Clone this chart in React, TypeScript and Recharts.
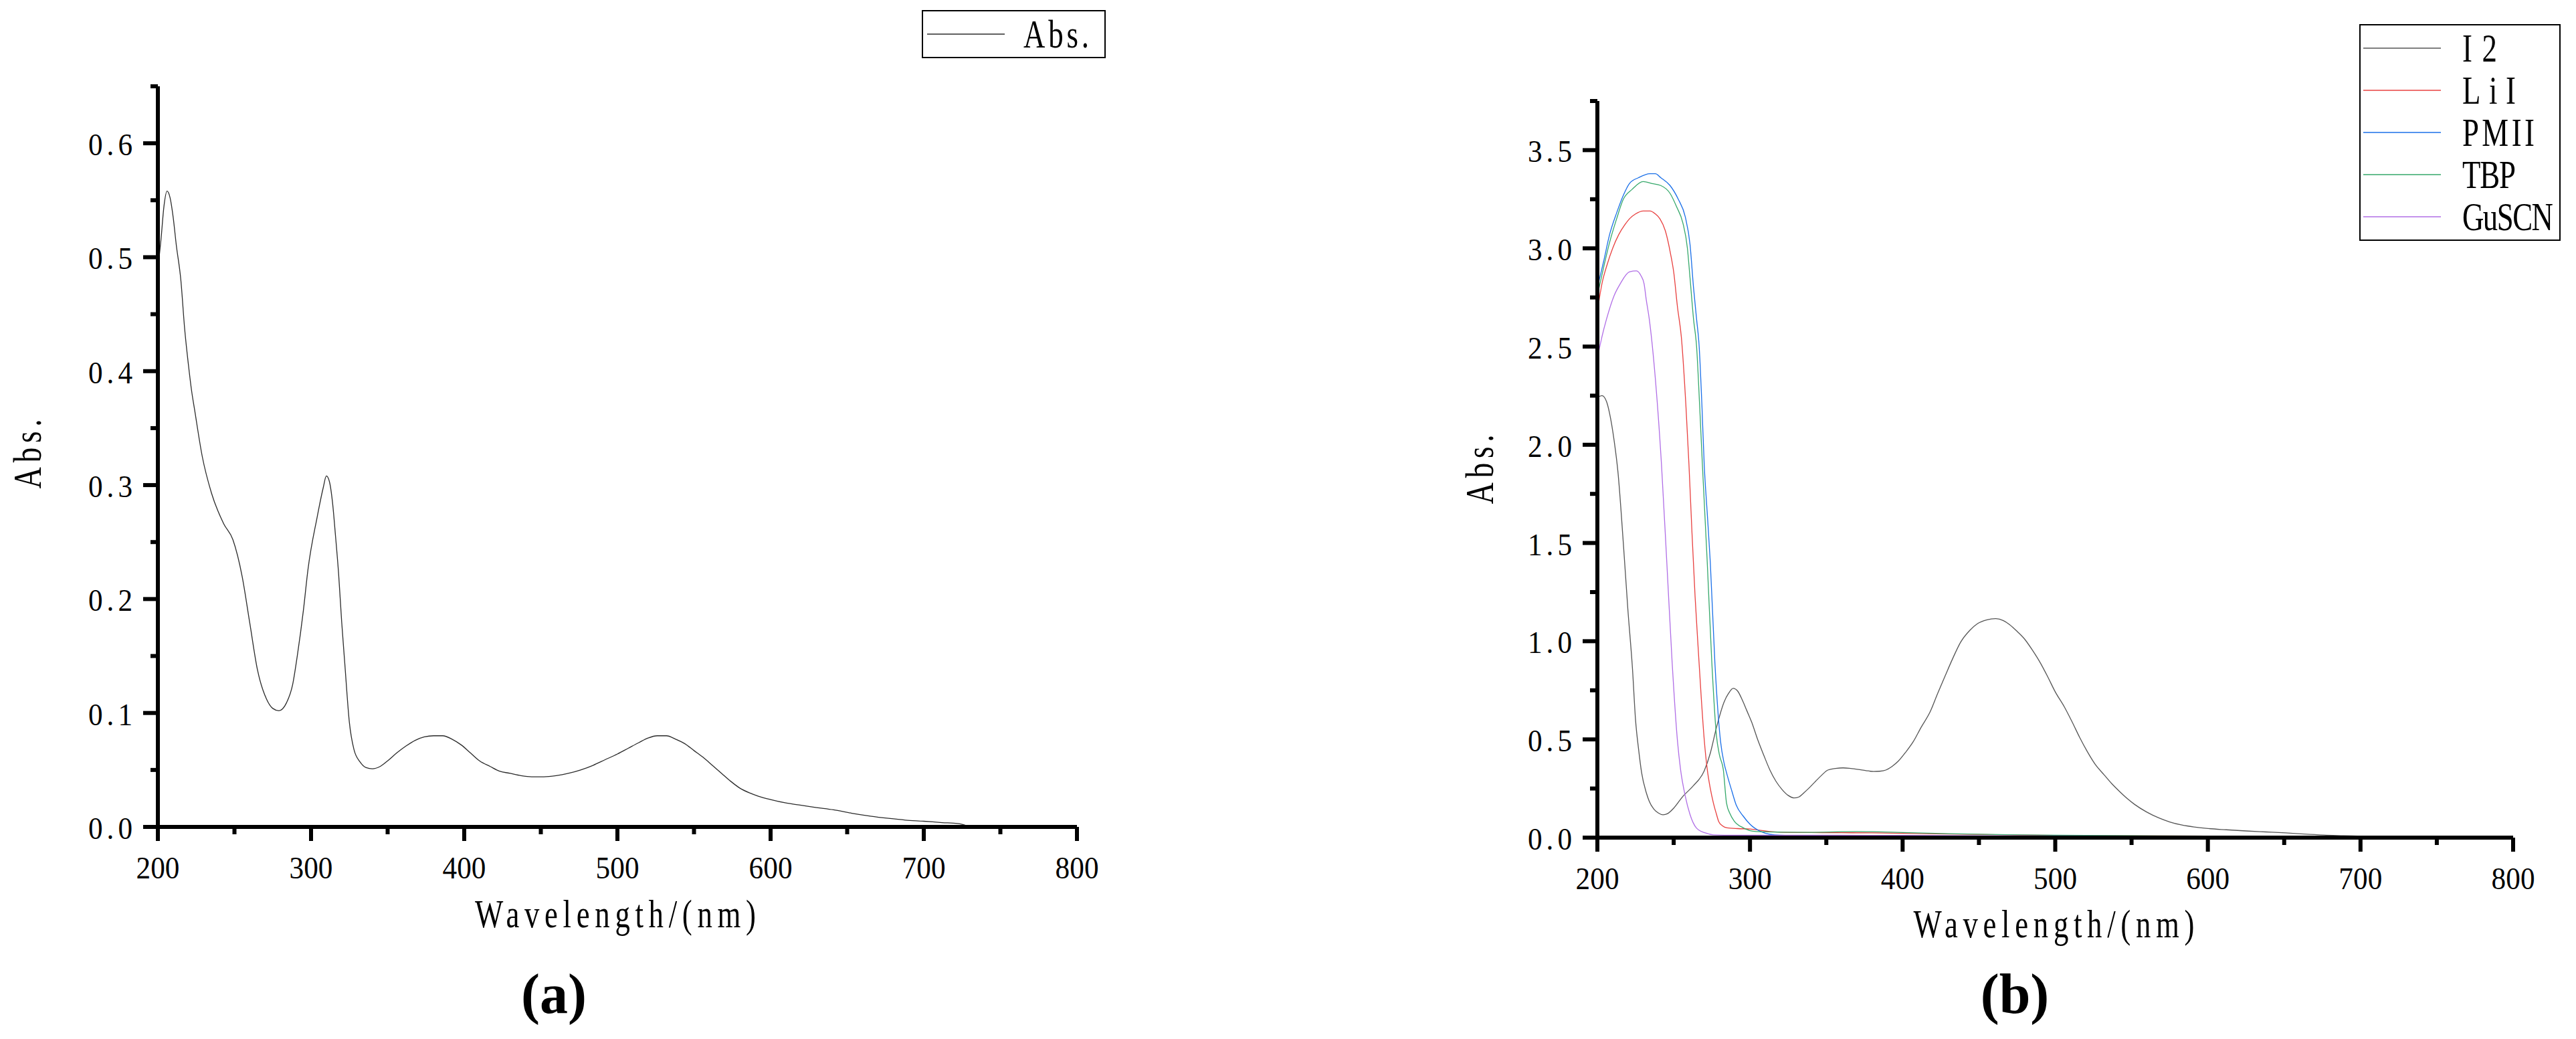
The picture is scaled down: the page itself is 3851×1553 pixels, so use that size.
import React from 'react';
import { LineChart, Line, XAxis, YAxis, Legend, Label } from 'recharts';

const FONT = '"Liberation Serif", "Times New Roman", serif';
const AXIS_STROKE = 6;

// ---------- ticks ----------
const xMajorTicks = [200, 300, 400, 500, 600, 700, 800];
const xMinorTicks = [250, 350, 450, 550, 650, 750];
const yMajorTicksA = [0, 0.1, 0.2, 0.3, 0.4, 0.5, 0.6];
const yMinorTicksA = [0.05, 0.15, 0.25, 0.35, 0.45, 0.55, 0.65];
const yMajorTicksB = [0, 0.5, 1, 1.5, 2, 2.5, 3, 3.5];
const yMinorTicksB = [0.25, 0.75, 1.25, 1.75, 2.25, 2.75, 3.25, 3.75];

const xTitle = 'Wavelength/(nm)';
const yTitle = 'Abs.';
const panelLabels = ['(a)', '(b)'];

// ---------- chart (a): single spectrum [wavelength nm, absorbance] ----------
const spectrumA: [number, number][] = [
  [200, 0.49], [202, 0.515], [204, 0.545], [206, 0.558], [208, 0.552], [210, 0.535],
  [212, 0.511], [215, 0.48], [217.5, 0.437], [220, 0.405], [222, 0.383], [224, 0.366],
  [229, 0.325], [235, 0.293], [243, 0.266], [249, 0.252], [255, 0.22], [260, 0.179],
  [265, 0.138], [271, 0.112], [275, 0.104], [279, 0.102], [284, 0.109], [288, 0.125],
  [291, 0.15], [295, 0.19], [298, 0.226], [304, 0.272], [308, 0.298], [310, 0.308],
  [312, 0.303], [314, 0.285], [316, 0.255], [318, 0.222], [320, 0.18], [322, 0.144],
  [325, 0.092], [328, 0.068], [332, 0.057], [336, 0.052], [340, 0.051], [345, 0.053],
  [350, 0.058], [356, 0.065], [362, 0.071], [368, 0.076], [374, 0.079], [380, 0.08],
  [386, 0.08], [392, 0.077], [398, 0.072], [404, 0.065], [410, 0.058], [417, 0.053],
  [423, 0.049], [430, 0.047], [437, 0.045], [444, 0.044], [452, 0.044], [460, 0.045],
  [468, 0.047], [476, 0.05], [484, 0.054], [492, 0.059], [500, 0.064], [507, 0.069],
  [514, 0.074], [520, 0.078], [526, 0.08], [532, 0.08], [538, 0.077], [544, 0.073],
  [550, 0.067], [556, 0.061], [562, 0.054], [568, 0.047], [574, 0.04], [580, 0.034],
  [586, 0.03], [592, 0.027], [600, 0.024], [610, 0.021], [620, 0.019], [630, 0.017],
  [641, 0.015], [653, 0.012], [665, 0.0095], [677, 0.0075], [688, 0.006], [700, 0.005],
  [712, 0.0038], [722, 0.003], [727, 0.0015],
];

// ---------- chart (b): five spectra ----------
const seriesI2: [number, number][] = [
  [200, 2.24], [203, 2.25], [206, 2.22], [208, 2.16], [211, 2.02], [213.5, 1.86], [217, 1.5],
  [220, 1.16], [223, 0.86], [225, 0.6], [227, 0.45], [229, 0.33], [232, 0.23], [234, 0.185],
  [237, 0.145], [240, 0.125], [243, 0.116], [246, 0.122], [250, 0.15], [256, 0.21], [263, 0.265],
  [270, 0.34], [274, 0.43], [278, 0.56], [283, 0.69], [286, 0.735], [289, 0.76], [292, 0.745],
  [295, 0.7], [298, 0.645], [301, 0.59], [305, 0.5], [309, 0.42], [313, 0.345], [317, 0.287],
  [321, 0.245], [325, 0.215], [329, 0.202], [332, 0.207], [335, 0.226], [339, 0.255], [343, 0.287],
  [347, 0.318], [351, 0.344], [356, 0.352], [361, 0.355], [366, 0.352], [371, 0.347], [376, 0.341],
  [381, 0.337], [385, 0.338], [389, 0.344], [393, 0.362], [397, 0.388], [402, 0.435], [407, 0.489],
  [412, 0.56], [418, 0.64], [423, 0.735], [428, 0.826], [433, 0.915], [438, 0.995], [444, 1.055],
  [449, 1.089], [455, 1.108], [461, 1.115], [466, 1.105], [470, 1.085], [475, 1.05], [480, 1.01],
  [485, 0.955], [490, 0.893], [495, 0.82], [500, 0.742], [506, 0.665], [511, 0.59], [516, 0.51],
  [521, 0.438], [526, 0.375], [532, 0.32], [537, 0.275], [542, 0.236], [547, 0.2], [552, 0.169],
  [560, 0.13], [568, 0.1], [575, 0.08], [583, 0.064], [591, 0.054], [599, 0.047], [612, 0.04],
  [625, 0.034], [638, 0.029], [651, 0.024], [663, 0.018], [676, 0.013], [689, 0.01], [702, 0.007],
  [720, 0.005], [750, 0.004], [780, 0.003], [800, 0.003],
];

const seriesLiI: [number, number][] = [
  [200, 2.68], [203, 2.82], [206.5, 2.92], [210, 3.0], [214, 3.07], [218, 3.12], [221, 3.15],
  [225, 3.175], [230, 3.19], [234.5, 3.19], [238, 3.175], [241, 3.15], [244.5, 3.09], [248, 2.97],
  [250, 2.88], [252.5, 2.7], [255, 2.55], [258, 2.2], [260, 1.9], [262, 1.55], [264, 1.23],
  [266, 0.97], [268, 0.72], [270, 0.5], [272, 0.347], [274, 0.25], [276, 0.177], [278, 0.12],
  [279.5, 0.082], [282, 0.06], [285, 0.05], [292, 0.046], [300, 0.044], [307, 0.037], [313, 0.031],
  [320, 0.028], [340, 0.026], [360, 0.025], [380, 0.024], [400, 0.022], [430, 0.018], [470, 0.014],
  [520, 0.01], [600, 0.008], [700, 0.006], [800, 0.005],
];

const seriesPMII: [number, number][] = [
  [200, 2.8], [204, 2.93], [208, 3.07], [212.6, 3.18], [217, 3.27], [221, 3.33], [227, 3.36],
  [234.5, 3.38], [238, 3.38], [241.5, 3.36], [247.6, 3.32], [253, 3.25], [257.6, 3.16],
  [260.7, 3.02], [263, 2.8], [265, 2.64], [266.7, 2.5], [268.5, 2.2], [270, 1.9], [272, 1.65],
  [274, 1.4], [277, 0.89], [280.7, 0.49], [283, 0.38], [285, 0.32], [288, 0.24], [291, 0.165],
  [295.6, 0.109], [300, 0.068], [307, 0.031], [313, 0.017], [320, 0.012], [340, 0.01], [360, 0.009],
  [400, 0.008], [450, 0.007], [500, 0.006], [600, 0.005], [700, 0.004], [800, 0.004],
];

const seriesTBP: [number, number][] = [
  [200, 2.76], [204, 2.9], [208, 3.03], [212.6, 3.15], [217, 3.25], [222.7, 3.3], [230, 3.34],
  [235.8, 3.33], [241.5, 3.32], [247.6, 3.28], [252, 3.21], [256, 3.13], [259, 3.0], [260.7, 2.85],
  [263, 2.64], [265, 2.5], [267, 2.2], [268.8, 1.9], [272, 1.4], [275, 0.89], [278, 0.52],
  [280, 0.42], [282.5, 0.347], [284.6, 0.177], [287, 0.12], [289.6, 0.085], [295.6, 0.05],
  [304, 0.031], [320, 0.028], [340, 0.027], [360, 0.03], [370, 0.031], [380, 0.03], [400, 0.026],
  [430, 0.02], [470, 0.015], [520, 0.011], [600, 0.008], [700, 0.004], [800, 0.003],
];

const seriesGuSCN: [number, number][] = [
  [200, 2.44], [203, 2.55], [206, 2.64], [211, 2.76], [215, 2.82], [221, 2.88], [225.6, 2.885],
  [228.6, 2.86], [230.6, 2.82], [232, 2.74], [234, 2.64], [237.5, 2.38], [242, 1.9], [245.5, 1.4],
  [249, 0.89], [252.5, 0.49], [254.5, 0.347], [257.6, 0.211], [260.6, 0.12], [265, 0.048],
  [270.7, 0.024], [276, 0.014], [290, 0.012], [320, 0.012], [360, 0.012], [400, 0.011],
  [500, 0.009], [600, 0.007], [700, 0.005], [800, 0.004],
];

const seriesNamesB = ['I2', 'LiI', 'PMII', 'TBP', 'GuSCN'];
const seriesColorsB = ['#555555', '#e8403f', '#1a6fe8', '#35a86a', '#b06ee6'];
const seriesListB = [seriesI2, seriesLiI, seriesPMII, seriesTBP, seriesGuSCN];

const toRows = (pairs: [number, number][]) => pairs.map(([x, y]) => ({ x, y }));

const isIn = (list: number[], v: number) => list.some((m) => Math.abs(m - v) < 1e-6);

// Text that imitates the narrow fixed-pitch serif of the original: glyphs are
// squeezed horizontally by sx, then letter spacing fills the target width.
const MonoText = (p: {
  x: number; y: number; text: string; size: number; width: number; sx: number;
  anchor?: 'start' | 'middle' | 'end'; rotate?: boolean;
}) => {
  const { x, y, text, size, width, sx, anchor = 'start', rotate = false } = p;
  const tf = rotate ? `rotate(-90 ${x} ${y}) scale(${sx} 1)` : `scale(${sx} 1)`;
  return (
    <text x={x / sx} y={y} transform={tf} textAnchor={anchor} fontFamily={FONT} fontSize={size}
      fill="#000" textLength={width / sx} lengthAdjust="spacing">{text}</text>
  );
};

// ---------- custom ticks ----------
const XTick = (props: any) => {
  const { x, y, payload } = props;
  const v = payload.value;
  const major = isIn(xMajorTicks, v);
  return (
    <g>
      <line x1={x} y1={y} x2={x} y2={y + (major ? 21 : 11)} stroke="#000" strokeWidth={AXIS_STROKE} />
      {major ? (
        <MonoText x={x} y={y + 77} text={String(v)} size={46} width={65} sx={0.94} anchor="middle" />
      ) : null}
    </g>
  );
};

const makeYTick = (majors: number[]) => (props: any) => {
  const { x, y, payload } = props;
  const v = payload.value;
  const major = isIn(majors, v);
  return (
    <g>
      <line x1={x - (major ? 22 : 11)} y1={y} x2={x} y2={y} stroke="#000" strokeWidth={AXIS_STROKE} />
      {major ? (
        <MonoText x={x - 38} y={y + 18} text={v.toFixed(1)} size={46} width={66} sx={0.94} anchor="end" />
      ) : null}
    </g>
  );
};
const YTickA = makeYTick(yMajorTicksA);
const YTickB = makeYTick(yMajorTicksB);

// ---------- titles ----------
const makeXTitle = (dy: number, dx: number) => (props: any) => {
  const vb = props.viewBox || { x: 0, y: 0, width: 0, height: 0 };
  return (
    <MonoText x={vb.x + vb.width / 2 + dx} y={vb.y + dy} text={xTitle} size={59} width={420}
      sx={0.76} anchor="middle" />
  );
};

const makeYTitle = (fromPlotLeft: number, cyOffset: number) => (props: any) => {
  const vb = props.viewBox || { x: 0, y: 0, width: 0, height: 0 };
  const cx = vb.x + vb.width - fromPlotLeft;
  const cy = vb.y + vb.height / 2 + cyOffset;
  return <MonoText x={cx} y={cy} text={yTitle} size={59} width={104} sx={0.76} anchor="middle" rotate />;
};

// ---------- legends ----------
const LegendA = (props: any) => {
  const items = props.payload || [];
  return (
    <svg width={275} height={72} style={{ display: 'block', overflow: 'visible' }}>
      <rect x={1} y={1} width={273} height={70} fill="#fff" stroke="#000" strokeWidth={2} />
      {items.map((it: any, i: number) => (
        <g key={i}>
          <line x1={8} x2={124} y1={36} y2={36} stroke={it.color} strokeWidth={1.5} />
          <MonoText x={152} y={56} text={String(it.value)} size={59} width={98} sx={0.76} />
        </g>
      ))}
    </svg>
  );
};

const LegendB = (props: any) => {
  const items = [...(props.payload || [])].sort(
    (a: any, b: any) => seriesNamesB.indexOf(String(a.value)) - seriesNamesB.indexOf(String(b.value)),
  );
  return (
    <svg width={301} height={324} style={{ display: 'block', overflow: 'visible' }}>
      <rect x={1} y={1} width={299} height={322} fill="#fff" stroke="#000" strokeWidth={2} />
      {items.map((it: any, i: number) => {
        const ly = 36 + i * 63;
        const label = String(it.value);
        return (
          <g key={i}>
            <line x1={6} x2={122} y1={ly} y2={ly} stroke={it.color} strokeWidth={1.5} />
            <MonoText x={154} y={ly + 20} text={label} size={59} width={label.length * 28 - 4} sx={0.76} />
          </g>
        );
      })}
    </svg>
  );
};

export default function App() {
  const dataA = toRows(spectrumA);
  return (
    <div style={{ position: 'absolute', left: 0, top: 0, width: 3851, height: 1553, background: '#fff' }}>
      <div style={{ position: 'absolute', left: 0, top: 0 }}>
        <LineChart width={1700} height={1553} margin={{ top: 129, right: 90, bottom: 117, left: 36 }}>
          <XAxis type="number" dataKey="x" domain={[200, 800]} ticks={[...xMajorTicks, ...xMinorTicks]}
            interval={0} tickSize={0} tickMargin={0} tickLine={false} tick={XTick} height={200}
            axisLine={{ stroke: '#000', strokeWidth: AXIS_STROKE }} allowDataOverflow>
            <Label content={makeXTitle(150, -3)} />
          </XAxis>
          <YAxis type="number" domain={[0, 0.65]} ticks={[...yMajorTicksA, ...yMinorTicksA]}
            interval={0} tickSize={0} tickMargin={0} tickLine={false} tick={YTickA} width={200}
            axisLine={{ stroke: '#000', strokeWidth: AXIS_STROKE }} allowDataOverflow>
            <Label content={makeYTitle(175, -4)} />
          </YAxis>
          <Legend layout="vertical" align="center" verticalAlign="middle" content={LegendA}
            wrapperStyle={{ position: 'absolute', left: 1378, top: 15, width: 275, height: 72 }} />
          <Line data={dataA} dataKey="y" name="Abs." type="monotone" stroke="#2b2b2b" strokeWidth={1.3}
            dot={false} activeDot={false} isAnimationActive={false} />
        </LineChart>
      </div>
      <div style={{ position: 'absolute', left: 1900, top: 0 }}>
        <LineChart width={1951} height={1553} margin={{ top: 151, right: 94, bottom: 101, left: 288 }}>
          <XAxis type="number" dataKey="x" domain={[200, 800]} ticks={[...xMajorTicks, ...xMinorTicks]}
            interval={0} tickSize={0} tickMargin={0} tickLine={false} tick={XTick} height={200}
            axisLine={{ stroke: '#000', strokeWidth: AXIS_STROKE }} allowDataOverflow>
            <Label content={makeXTitle(149, -2)} />
          </XAxis>
          <YAxis type="number" domain={[0, 3.75]} ticks={[...yMajorTicksB, ...yMinorTicksB]}
            interval={0} tickSize={0} tickMargin={0} tickLine={false} tick={YTickB} width={200}
            axisLine={{ stroke: '#000', strokeWidth: AXIS_STROKE }} allowDataOverflow>
            <Label content={makeYTitle(156, 0)} />
          </YAxis>
          <Legend layout="vertical" align="center" verticalAlign="middle" content={LegendB}
            itemSorter={(item: any) => seriesNamesB.indexOf(String(item.value))}
            wrapperStyle={{ position: 'absolute', left: 1627, top: 36, width: 301, height: 324 }} />
          {seriesListB.map((s, i) => (
            <Line key={seriesNamesB[i]} data={toRows(s)} dataKey="y" name={seriesNamesB[i]} type="monotone"
              stroke={seriesColorsB[i]} strokeWidth={1.3} dot={false} activeDot={false}
              isAnimationActive={false} />
          ))}
        </LineChart>
      </div>
      <svg width={3851} height={1553} style={{ position: 'absolute', left: 0, top: 0, pointerEvents: 'none' }}>
        <text x={828} y={1514} textAnchor="middle" fontFamily={FONT} fontWeight="bold" fontSize={84} fill="#000">{panelLabels[0]}</text>
        <text x={3012} y={1514} textAnchor="middle" fontFamily={FONT} fontWeight="bold" fontSize={84} fill="#000">{panelLabels[1]}</text>
      </svg>
    </div>
  );
}
